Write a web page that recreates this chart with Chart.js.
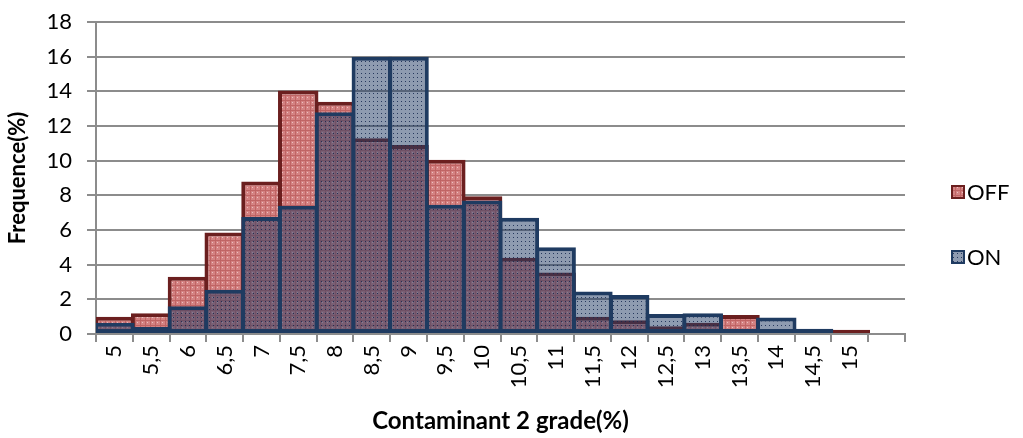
<!DOCTYPE html>
<html>
<head>
<meta charset="utf-8">
<script src="https://cdn.jsdelivr.net/npm/chart.js@4.4.1/dist/chart.umd.min.js"></script>
<style>
  html, body { margin: 0; padding: 0; background: #fff; }
  #wrap { width: 1023px; height: 438px; position: relative; }
</style>
</head>
<body>
<div id="wrap"><canvas id="chart" width="1023" height="438"></canvas></div>
<script>
// Data
const grades = ['5', '5,5', '6', '6,5', '7', '7,5', '8', '8,5', '9', '9,5', '10',
  '10,5', '11', '11,5', '12', '12,5', '13', '13,5', '14', '14,5', '15', ''];
const offValues = [1.0, 1.2, 3.3, 5.85, 8.8, 14.05, 13.4, 11.3, 10.9, 10.05, 7.95,
  4.4, 3.55, 1.0, 0.8, 0.45, 0.65, 1.1, 0.15, null, 0.25, null];
const onValues = [0.65, 0.4, 1.6, 2.55, 6.75, 7.4, 12.8, 16, 16, 7.45, 7.7,
  6.7, 5.0, 2.45, 2.25, 1.15, 1.2, 0.3, 0.95, 0.3, null, null];
const yTicks = [0, 2, 4, 6, 8, 10, 12, 14, 16, 18];

const canvas = document.getElementById('chart');
const ctx = canvas.getContext('2d');

// Small tiled fills to mimic the Excel pattern fills
function makePattern(size, draw) {
  const tile = document.createElement('canvas');
  tile.width = size;
  tile.height = size;
  draw(tile.getContext('2d'));
  return ctx.createPattern(tile, 'repeat');
}

const offFill = makePattern(5, (g) => {
  g.fillStyle = 'rgb(212,130,130)';
  g.fillRect(0, 0, 5, 5);
  g.fillStyle = 'rgb(192,100,100)';
  g.fillRect(0, 0, 5, 1);
  g.fillRect(0, 0, 1, 5);
  g.fillStyle = 'rgb(236,192,192)';
  g.fillRect(2, 2, 1, 1);
});

const onFill = makePattern(4, (g) => {
  g.fillStyle = 'rgba(38,64,104,0.52)';
  g.fillRect(0, 0, 4, 4);
  g.fillStyle = 'rgba(20,40,80,0.85)';
  g.fillRect(1, 1, 1, 1);
});

const offBorder = '#6b1f1f';
const onBorder = '#1f3b61';
const gridGrey = '#8c8c8c';
const font = "Lato, 'Open Sans', sans-serif";

// Legend at the right, drawn by hand
const sideLegend = {
  id: 'sideLegend',
  afterDraw(chart) {
    const c = chart.ctx;
    const items = [
      { text: 'OFF', fill: offFill, border: offBorder, y: 192 },
      { text: 'ON', fill: onFill, border: onBorder, y: 257 }
    ];
    c.save();
    items.forEach((it) => {
      c.fillStyle = '#fff';
      c.fillRect(951, it.y - 7, 14, 14);
      c.fillStyle = it.fill;
      c.fillRect(951, it.y - 7, 14, 14);
      c.lineWidth = 2;
      c.strokeStyle = it.border;
      c.strokeRect(952, it.y - 6, 12, 12);
      c.fillStyle = '#000';
      c.font = '22px ' + font;
      c.textBaseline = 'middle';
      c.textAlign = 'left';
      c.fillText(it.text, 967, it.y + 1);
    });
    c.restore();
  }
};

new Chart(ctx, {
  type: 'bar',
  data: {
    labels: grades,
    datasets: [
      {
        label: 'OFF',
        data: offValues,
        backgroundColor: offFill,
        borderColor: offBorder,
        borderWidth: 4,
        borderSkipped: false,
        order: 1
      },
      {
        label: 'ON',
        data: onValues,
        backgroundColor: onFill,
        borderColor: onBorder,
        borderWidth: 4,
        borderSkipped: false,
        order: 0
      }
    ]
  },
  options: {
    responsive: false,
    animation: false,
    layout: { padding: { left: 0, right: 118, top: 22, bottom: 0 } },
    datasets: {
      bar: { grouped: false, categoryPercentage: 1, barPercentage: 1.1 }
    },
    plugins: {
      legend: { display: false },
      tooltip: { enabled: false }
    },
    scales: {
      x: {
        grid: { drawOnChartArea: false, drawTicks: true, tickLength: 8, color: gridGrey, lineWidth: 2 },
        border: { color: gridGrey, width: 2 },
        ticks: {
          color: '#000',
          font: { family: font, size: 22 },
          minRotation: 90,
          maxRotation: 90,
          autoSkip: false,
          padding: 3
        },
        title: {
          display: true,
          text: 'Contaminant 2 grade(%)',
          color: '#000',
          font: { family: font, size: 24, weight: 'bold' },
          padding: { top: 0, bottom: 2 }
        },
        afterFit(scale) { scale.height = 104; }
      },
      y: {
        min: 0,
        max: 18,
        afterBuildTicks(scale) { scale.ticks = yTicks.map((v) => ({ value: v })); },
        grid: { color: gridGrey, lineWidth: 2, tickLength: 9 },
        border: { color: gridGrey, width: 2 },
        ticks: {
          color: '#000',
          font: { family: font, size: 22 },
          padding: 15
        },
        title: {
          display: true,
          text: 'Frequence(%)',
          color: '#000',
          font: { family: font, size: 22, weight: 'bold' },
          padding: { top: 5, bottom: 0 }
        },
        afterFit(scale) {
          scale.width = 96;
          // keep the plot top fixed regardless of tick padding
          scale.paddingTop = 0;
          scale.paddingBottom = 0;
        }
      }
    }
  },
  plugins: [sideLegend]
});
</script>
</body>
</html>
